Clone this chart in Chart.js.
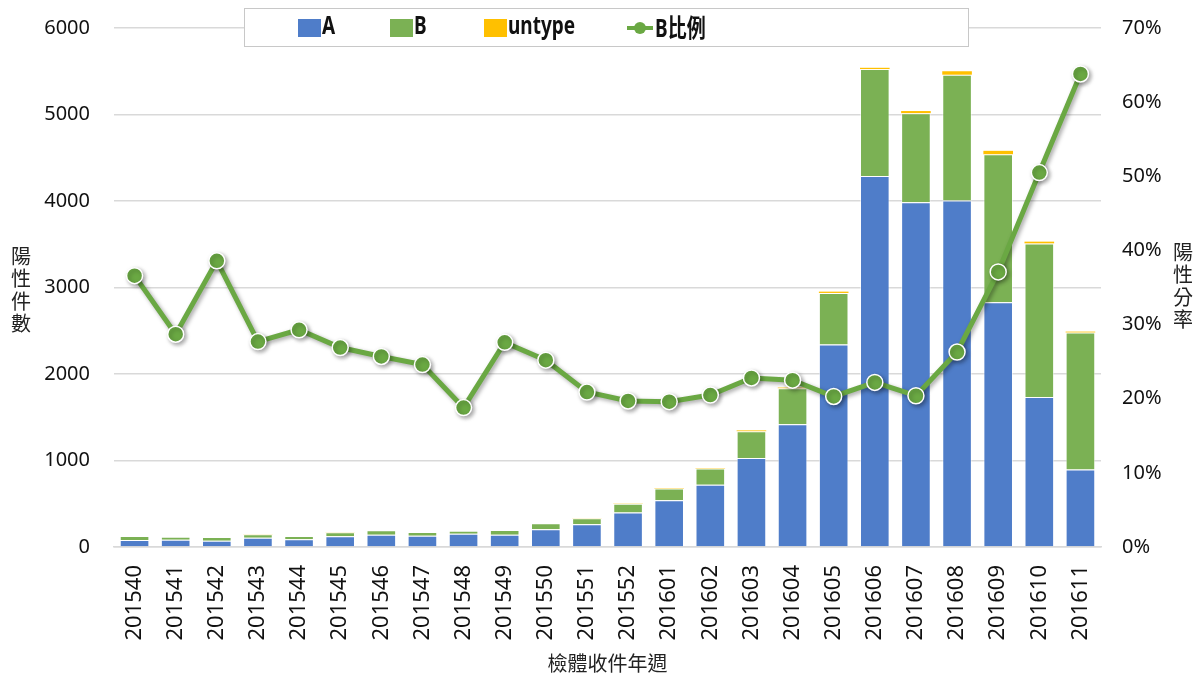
<!DOCTYPE html>
<html>
<head>
<meta charset="utf-8">
<script src="https://cdn.jsdelivr.net/npm/chart.js@4/dist/chart.umd.min.js"></script>
<style>
  html, body { margin: 0; padding: 0; background: #fff; }
  #wrap { width: 1200px; height: 677px; }
</style>
</head>
<body>
<div id="wrap"><canvas id="mainChart" width="1200" height="677"></canvas></div>
<script>
const WEEKS = ["201540","201541","201542","201543","201544","201545","201546","201547","201548","201549","201550","201551","201552","201601","201602","201603","201604","201605","201606","201607","201608","201609","201610","201611"];
const TYPE_A = [80, 85, 71, 106, 90, 125, 143, 130, 153, 143, 205, 263, 400, 540, 720, 1030, 1420, 2340, 4290, 3985, 4005, 2830, 1735, 895];
const TYPE_B = [47, 34, 45, 42, 37, 46, 50, 43, 36, 54, 69, 70, 100, 135, 187, 308, 415, 597, 1235, 1030, 1455, 1710, 1775, 1585];
const UNTYPE = [0, 0, 0, 2, 0, 2, 0, 0, 0, 0, 0, 2, 3, 5, 5, 10, 8, 15, 15, 25, 40, 40, 20, 10];
const B_RATIO = [36.6, 28.7, 38.6, 27.7, 29.3, 26.9, 25.7, 24.6, 18.8, 27.6, 25.2, 20.9, 19.7, 19.6, 20.5, 22.8, 22.5, 20.3, 22.2, 20.4, 26.3, 37.1, 50.5, 63.8];

const FONT = '"Noto Sans", "Noto Sans CJK TC", sans-serif';
const BLUE = "#4f7dc9";
const GREEN_BAR = "#7bb154";
const GREEN_LINE = "#6aa843";
const GOLD = "#ffc000";

// narrow bold text, the reference legend uses a condensed face
function narrowText(ctx, text, x, y){
    ctx.save();
    ctx.translate(x, y);
    ctx.scale(0.76, 1);
    ctx.fillText(text, 0, 0);
    ctx.restore();
}

// y scales: fixed width, and no extra top/bottom padding from tick padding
function fixY(width){
    return function(scale){
        scale.width = width;
        scale.paddingTop = 0;
        scale.paddingBottom = 0;
    };
}

// line shadow + axis titles + boxed legend
const extras = {
    id: "extras",
    beforeDatasetDraw(chart, args){
        if (chart.data.datasets[args.index].type !== "line") return;
        const ctx = chart.ctx;
        ctx.save();
        ctx.shadowColor = "rgba(0,0,0,0.35)";
        ctx.shadowBlur = 4;
        ctx.shadowOffsetX = 2;
        ctx.shadowOffsetY = 2;
    },
    afterDatasetDraw(chart, args){
        if (chart.data.datasets[args.index].type !== "line") return;
        chart.ctx.restore();
    },
    afterDraw(chart){
        const ctx = chart.ctx;
        ctx.save();
        // vertical axis titles
        ctx.fillStyle = "#222";
        ctx.font = "20px " + FONT;
        ctx.textAlign = "center";
        ctx.textBaseline = "middle";
        const left = ["陽","性","件","數"];
        const right = ["陽","性","分","率"];
        left.forEach((c, i) => ctx.fillText(c, 21, 258 + i * 22.5));
        right.forEach((c, i) => ctx.fillText(c, 1183, 254 + i * 22.5));

        // legend box
        ctx.fillStyle = "#fff";
        ctx.fillRect(244, 8, 724, 38);
        ctx.strokeStyle = "#c8c8c8";
        ctx.lineWidth = 1;
        ctx.strokeRect(244.5, 8.5, 724, 38);
        ctx.font = "bold 25px " + FONT;
        ctx.textAlign = "left";
        ctx.textBaseline = "middle";
        const items = [
            {x: 298, label: chart.data.datasets[0].label, color: BLUE},
            {x: 390, label: chart.data.datasets[1].label, color: GREEN_BAR},
            {x: 484, label: chart.data.datasets[2].label, color: GOLD}
        ];
        items.forEach(it => {
            ctx.fillStyle = it.color;
            ctx.fillRect(it.x, 19, 23, 18);
            ctx.fillStyle = "#111";
            narrowText(ctx, it.label, it.x + 24, 27);
        });
        ctx.strokeStyle = GREEN_LINE;
        ctx.lineWidth = 4;
        ctx.beginPath();
        ctx.moveTo(627, 28);
        ctx.lineTo(653, 28);
        ctx.stroke();
        ctx.fillStyle = GREEN_LINE;
        ctx.beginPath();
        ctx.arc(640, 28, 6, 0, Math.PI * 2);
        ctx.fill();
        ctx.fillStyle = "#111";
        narrowText(ctx, chart.data.datasets[3].label, 655, 30);
        ctx.restore();
    }
};

new Chart(document.getElementById("mainChart"), {
    type: "bar",
    data: {
        labels: WEEKS,
        datasets: [
            {label: "A", data: TYPE_A, backgroundColor: BLUE, borderColor: "rgba(255,255,255,0.5)", borderWidth: 1, stack: "s", order: 1, yAxisID: "y"},
            {label: "B", data: TYPE_B, backgroundColor: GREEN_BAR, borderColor: "rgba(255,255,255,0.5)", borderWidth: 1, stack: "s", order: 1, yAxisID: "y"},
            {label: "untype", data: UNTYPE, backgroundColor: GOLD, borderWidth: 0, stack: "s", order: 1, yAxisID: "y"},
            {
                type: "line", label: "B比例", data: B_RATIO, yAxisID: "y1", order: 0,
                borderColor: GREEN_LINE, borderWidth: 5, tension: 0,
                pointBackgroundColor: GREEN_LINE, pointBorderColor: "#fff",
                pointBorderWidth: 1.5, pointRadius: 8
            }
        ]
    },
    options: {
        responsive: false,
        animation: false,
        layout: {padding: {top: 28, left: 0, right: 0, bottom: 0}},
        plugins: {
            legend: {display: false},
            tooltip: {enabled: false}
        },
        scales: {
            x: {
                stacked: true,
                barPercentage: 0.68,
                categoryPercentage: 1,
                grid: {display: false, drawTicks: false},
                border: {color: "#d9d9d9", width: 1.5},
                ticks: {color: "#111", font: {family: FONT, size: 22}, minRotation: 90, maxRotation: 90, padding: 18, autoSkip: false},
                title: {display: true, text: "檢體收件年週", color: "#222", font: {family: FONT, size: 20}, padding: {top: 0, bottom: 0}},
                afterFit(scale){ scale.height = 130; }
            },
            y: {
                stacked: true,
                position: "left",
                min: 0, max: 6000,
                ticks: {stepSize: 1000, color: "#111", font: {family: FONT, size: 20}, padding: 24, callback: v => String(v)},
                grid: {color: "#d9d9d9", lineWidth: 1.5, drawTicks: false},
                border: {display: false},
                afterFit: fixY(114)
            },
            y1: {
                position: "right",
                min: 0, max: 70,
                ticks: {stepSize: 10, color: "#111", font: {family: FONT, size: 20}, padding: 21, callback: v => v + "%"},
                grid: {display: false, drawTicks: false},
                border: {display: false},
                afterFit: fixY(99)
            }
        }
    },
    plugins: [extras]
});
</script>
</body>
</html>
